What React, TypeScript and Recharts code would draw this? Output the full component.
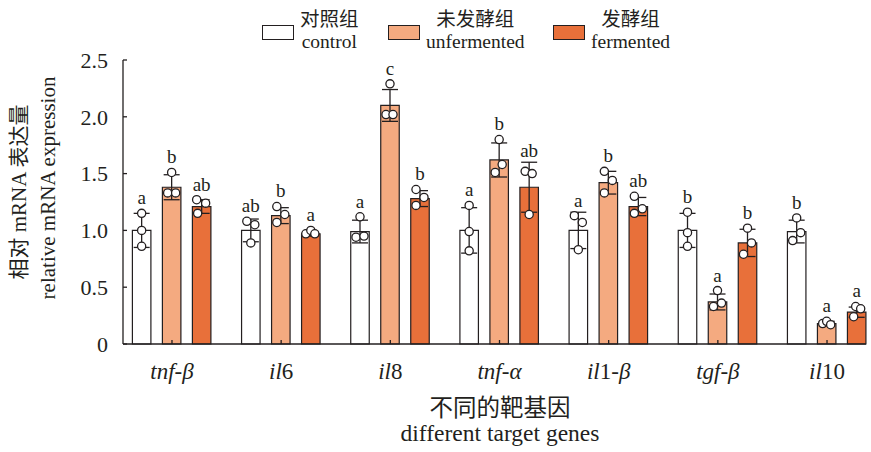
import { BarChart, Bar, XAxis, YAxis, ErrorBar, LabelList, Legend } from 'recharts';

const FONT = "'Liberation Serif', 'Noto Sans CJK SC', serif";
const INK = '#231f20';

const genes = ['tnf-β', 'il6', 'il8', 'tnf-α', 'il1-β', 'tgf-β', 'il10'];

// group means
const controlMean = [1.0, 1.0, 0.99, 1.0, 1.0, 1.0, 0.99];
const unfermentedMean = [1.38, 1.13, 2.1, 1.62, 1.42, 0.37, 0.18];
const fermentedMean = [1.21, 0.97, 1.28, 1.38, 1.21, 0.89, 0.28];

// standard deviations
const controlSd = [0.15, 0.1, 0.1, 0.2, 0.16, 0.15, 0.1];
const unfermentedSd = [0.11, 0.07, 0.14, 0.15, 0.1, 0.07, 0.02];
const fermentedSd = [0.06, 0.02, 0.07, 0.22, 0.08, 0.12, 0.045];

// individual replicates (n = 3)
const controlReps = [
  [1.15, 1.0, 0.86], [1.08, 1.05, 0.89], [1.12, 0.94, 0.95], [1.22, 0.99, 0.82],
  [1.13, 1.07, 0.83], [1.16, 0.98, 0.86], [1.11, 0.98, 0.91],
];
const unfermentedReps = [
  [1.51, 1.33, 1.33], [1.21, 1.14, 1.07], [2.29, 2.02, 2.02], [1.8, 1.58, 1.51],
  [1.52, 1.44, 1.33], [0.47, 0.33, 0.36], [0.18, 0.2, 0.17],
];
const fermentedReps = [
  [1.27, 1.24, 1.15], [0.97, 1.0, 0.97], [1.36, 1.29, 1.22], [1.52, 1.5, 1.14],
  [1.3, 1.15, 1.19], [1.02, 0.89, 0.79], [0.33, 0.31, 0.24],
];

// significance letters
const controlLetters = ['a', 'ab', 'a', 'a', 'a', 'b', 'b'];
const unfermentedLetters = ['b', 'b', 'c', 'b', 'b', 'a', 'a'];
const fermentedLetters = ['ab', 'a', 'b', 'ab', 'ab', 'b', 'a'];

const yTicks = [0, 0.5, 1.0, 1.5, 2.0, 2.5];

// horizontal spread of the replicate dots inside each bar (px)
const controlJitter = [[0, 0, 0], [-4, 4, 0], [0, -4, 4], [0, 0, 0], [-4, 4, 0], [0, 0, 0], [0, 4, -4]];
const unfermentedJitter = [[0, -4, 4], [-4, 4, -4], [0, -4, 3], [0, 3, -4], [-4, 4, -4], [0, -4, 4], [-4, 0, 4]];
const fermentedJitter = [[-5, 4, -4], [-5, 0, 4], [-4, 4, -4], [-4, 3, 0], [-4, -4, 4], [0, 4, -4], [-1, 4, -3]];

const data = genes.map((gene, i) => ({
  gene,
  control: controlMean[i],
  controlSd: controlSd[i],
  unfermented: unfermentedMean[i],
  unfermentedSd: unfermentedSd[i],
  fermented: fermentedMean[i],
  fermentedSd: fermentedSd[i],
}));

const series = [
  { key: 'control', zh: '对照组', en: 'control', fill: '#ffffff', reps: controlReps, sd: controlSd, letters: controlLetters, jitter: controlJitter },
  { key: 'unfermented', zh: '未发酵组', en: 'unfermented', fill: '#f4aa80', reps: unfermentedReps, sd: unfermentedSd, letters: unfermentedLetters, jitter: unfermentedJitter },
  { key: 'fermented', zh: '发酵组', en: 'fermented', fill: '#e8703a', reps: fermentedReps, sd: fermentedSd, letters: fermentedLetters, jitter: fermentedJitter },
];

const DOT_R = 4.1;

// replicate dots and the letter above each bar
function makeMarks(s: any) {
  return (props: any) => {
    const { viewBox, index, value } = props;
    if (!viewBox || !value) return null;
    const { x, y, width, height } = viewBox;
    const base = y + height;
    const k = height / value;
    const cx = x + width / 2;
    const reps: number[] = s.reps[index];
    const top = Math.min(base - (value + s.sd[index]) * k, base - Math.max(...reps) * k - DOT_R);
    return (
      <g>
        {reps.map((r, j) => (
          <circle key={j} cx={cx + s.jitter[index][j]} cy={base - r * k} r={DOT_R} fill="#fff" stroke={INK} strokeWidth={1.3} />
        ))}
        <text x={cx} y={top - 5} textAnchor="middle" fontSize={19} fontFamily={FONT} fill={INK}>
          {s.letters[index]}
        </text>
      </g>
    );
  };
}

// gene names: letters in italics, digits upright
function GeneTick(props: any) {
  const { x, y, payload } = props;
  const parts = String(payload.value).split(/(\d+)/).filter((p) => p !== '');
  return (
    <text x={x} y={y} dy="0.71em" textAnchor="middle" fontSize={23} fontFamily={FONT} fill={INK}>
      {parts.map((p, i) => (
        <tspan key={i} fontStyle={/^\d+$/.test(p) ? 'normal' : 'italic'}>{p}</tspan>
      ))}
    </text>
  );
}

function XTitle() {
  return (
    <g fontFamily={FONT} fill={INK} textAnchor="middle">
      <text x={500} y={408} dominantBaseline="central" fontSize={23.5} fontFamily={FONT}>不同的靶基因</text>
      <text x={500} y={441} fontSize={23.5} fontFamily={FONT}>different target genes</text>
    </g>
  );
}

function YTitle() {
  return (
    <g fontFamily={FONT} fill={INK} textAnchor="middle">
      <text transform="translate(19,192) rotate(-90)" dominantBaseline="central" fontSize={21} fontFamily={FONT}>相对 mRNA 表达量</text>
      <text transform="translate(48,188) rotate(-90)" dominantBaseline="central" fontSize={21} fontFamily={FONT}>relative mRNA expression</text>
    </g>
  );
}

function LegendBox() {
  const lefts = [262, 388, 553];
  return (
    <div style={{ position: 'relative', width: 871, height: 55, fontFamily: FONT, color: INK }}>
      {series.map((s, i) => (
        <div key={s.key} style={{ position: 'absolute', left: lefts[i], top: 9, display: 'flex', alignItems: 'center' }}>
          <div style={{ width: 30, height: 13, background: s.fill, border: `1.3px solid ${INK}`, marginTop: 3 }} />
          <div style={{ marginLeft: 6, textAlign: 'center', fontSize: 19.5, lineHeight: '22px' }}>
            <div>{s.zh}</div>
            <div>{s.en}</div>
          </div>
        </div>
      ))}
    </div>
  );
}

export default function App() {
  return (
    <div style={{ position: 'absolute', left: 0, top: 0, background: '#fff' }}>
      <BarChart
        width={871}
        height={452}
        data={data}
        margin={{ top: 5, right: 5, bottom: 48, left: 63 }}
        barSize={18.5}
        barGap={11.5}
      >
        <Legend verticalAlign="top" wrapperStyle={{ left: 0, top: 0, width: 871, height: 55 }} content={<LegendBox />} />
        <YAxis
          width={60}
          domain={[0, 2.5]}
          ticks={yTicks}
          interval={0}
          tickSize={-4}
          tickMargin={19}
          tickFormatter={(v: number) => (v === 0 ? '0' : v.toFixed(1))}
          tick={{ fill: INK, fontSize: 22, fontFamily: FONT }}
          axisLine={{ stroke: INK, strokeWidth: 1.3 }}
          tickLine={{ stroke: INK, strokeWidth: 1.3 }}
          label={{ content: <YTitle /> }}
        />
        {series.map((s) => (
          <Bar key={s.key} dataKey={s.key} fill={s.fill} stroke={INK} strokeWidth={1.2} isAnimationActive={false}>
            <ErrorBar dataKey={`${s.key}Sd`} width={8} stroke={INK} strokeWidth={1.3} direction="y" />
            <LabelList dataKey={s.key} content={makeMarks(s)} />
          </Bar>
        ))}
        <XAxis
          dataKey="gene"
          height={60}
          interval={0}
          padding={{ left: -5.6, right: -15.6 }}
          tickSize={-4}
          tickMargin={23}
          tick={<GeneTick />}
          axisLine={{ stroke: INK, strokeWidth: 1.3 }}
          tickLine={{ stroke: INK, strokeWidth: 1.3 }}
          label={{ content: <XTitle /> }}
        />
      </BarChart>
    </div>
  );
}
